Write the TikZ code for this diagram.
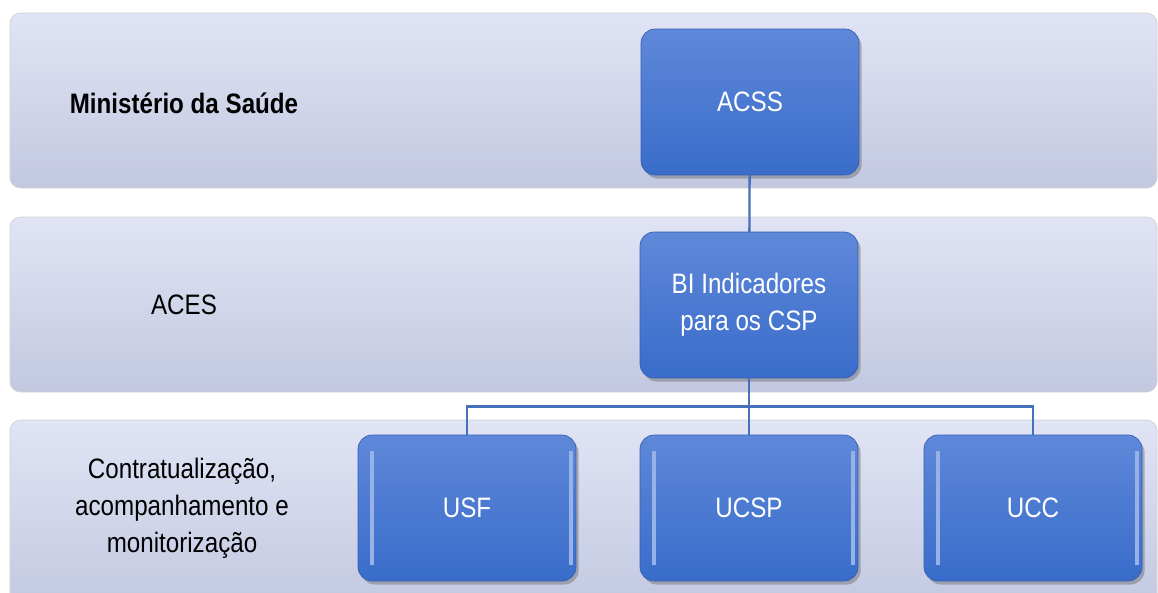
\documentclass[tikz,border=0pt]{standalone}
\usepackage{fontspec}
\setmainfont[FakeStretch=0.86]{Liberation Sans}
\usetikzlibrary{positioning,calc,shadows}

\definecolor{bandtop}{HTML}{E0E4F5}
\definecolor{bandbot}{HTML}{C2C8E0}
\definecolor{boxtop}{HTML}{5F88D9}
\definecolor{boxbot}{HTML}{396CCA}
\definecolor{boxline}{HTML}{3460B2}
\definecolor{linkcol}{HTML}{4570BA}

\begin{document}
\begin{tikzpicture}[x=0.02cm,y=-0.02cm,font=\fontsize{16}{21}\selectfont,
  band/.style={rounded corners=6pt,draw=black!18,top color=bandtop,bottom color=bandbot},
  unit/.style={rounded corners=8pt,draw=boxline,top color=boxtop,bottom color=boxbot,
    text=white,align=center,minimum width=4.36cm,minimum height=2.92cm,outer sep=0pt,
    drop shadow={shadow xshift=1.5pt,shadow yshift=-2pt,opacity=0.35,fill=black!70}},
  bevel/.style={path picture={
    \draw[white!35!boxtop,line width=2.5pt]
      ([xshift=8pt,yshift=-9pt]path picture bounding box.north west) --
      ([xshift=8pt,yshift=9pt]path picture bounding box.south west);
    \draw[white!35!boxtop,line width=2.5pt]
      ([xshift=-3pt,yshift=-9pt]path picture bounding box.north east) --
      ([xshift=-3pt,yshift=9pt]path picture bounding box.south east);}},
  lvl/.style={align=center,text=black},
  link/.style={draw=linkcol,line width=1.3pt}]
  \useasboundingbox (0,0) rectangle (1158,592);
  \clip (0,0) rectangle (1158,592);

  % levels
  \draw[band] (10,13) rectangle (1157,188);
  \draw[band] (10,217) rectangle (1157,392);
  \draw[band] (10,420) rectangle (1157,610);

  \node[lvl,font=\fontsize{16}{21}\selectfont\bfseries] (ms) at (184,103) {Ministério da Saúde};
  \node[lvl] (aces) at (184,305) {ACES};
  \node[lvl] (csp) at (182,508) {Contratualização,\\acompanhamento e\\monitorização};

  % units
  \node[unit] (acss) at (750,102) {ACSS};
  \node[unit] (bi) at (749,305) {BI Indicadores\\para os CSP};
  \node[unit,bevel] (ucsp) at (749,508) {UCSP};
  \node[unit,bevel] (usf) at (467,508) {USF};
  \node[unit,bevel] (ucc) at (1033,508) {UCC};

  % connectors
  \coordinate (bus) at ($(bi.south)!0.5!(ucsp.north)$);
  \draw[link] (acss) -- (bi);
  \draw[link] (bi) -- (ucsp);
  \draw[link] (usf.north) |- (bus) -| (ucc.north);
\end{tikzpicture}
\end{document}
